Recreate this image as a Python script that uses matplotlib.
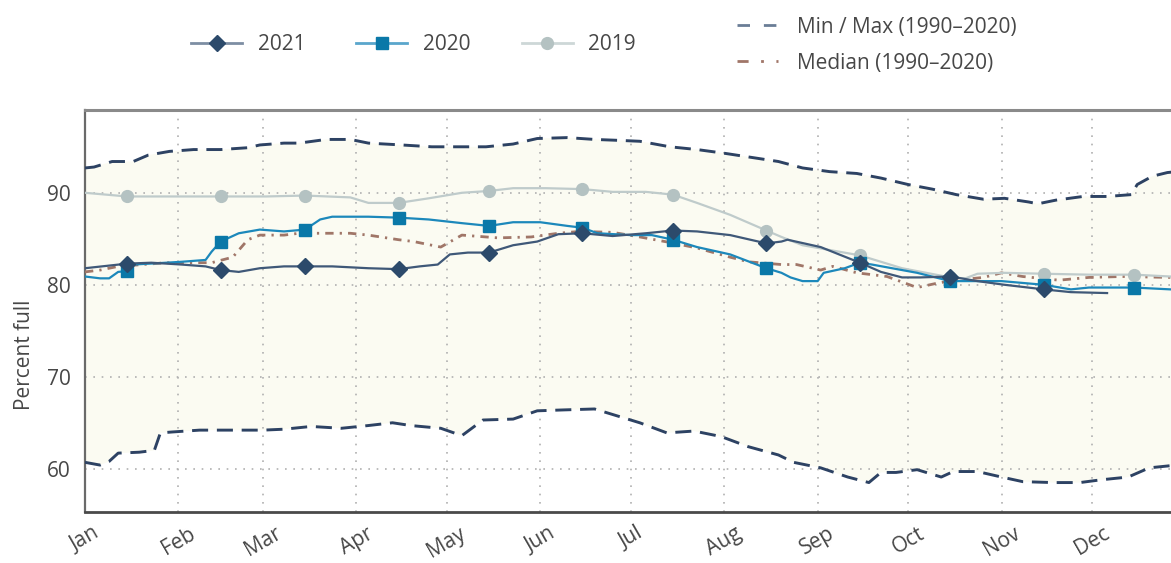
import matplotlib
matplotlib.use("Agg")
import matplotlib.pyplot as plt
from matplotlib.lines import Line2D
import numpy as np

plt.rcParams['font.family'] = ['Open Sans', 'DejaVu Sans']

# ---------------- data ----------------
month_labels = ['Jan', 'Feb', 'Mar', 'Apr', 'May', 'Jun', 'Jul', 'Aug', 'Sep', 'Oct', 'Nov', 'Dec']
month_start_days = [0, 31, 59, 90, 120, 151, 181, 212, 243, 273, 304, 334]
mid_month_days = [14, 45, 73, 104, 134, 165, 195, 226, 257, 287, 318, 348]
y_ticks = [60, 70, 80, 90]

days_2019 = [0, 14, 31, 45, 60, 73, 88, 94, 104, 114, 125, 134, 142, 153, 165, 175, 186, 195, 203, 214,
             226, 231, 238, 257, 271, 287, 292, 296, 305, 318, 333, 348, 360]
vals_2019 = [90.0, 89.6, 89.6, 89.6, 89.6, 89.7, 89.5, 88.9, 88.9, 89.4, 90.0, 90.2, 90.5, 90.5, 90.4, 90.1,
             90.1, 89.8, 88.9, 87.6, 85.9, 85.2, 84.3, 83.2, 81.8, 80.8, 80.7, 81.2, 81.3, 81.2, 81.1, 81.1, 80.9]

days_2020 = [0, 5, 8, 11, 14, 16, 27, 32, 40, 42, 45, 51, 58, 66, 73, 78, 82, 94, 104, 114, 125, 134, 142,
             151, 160, 165, 170, 181, 188, 195, 203, 214, 226, 231, 234, 238, 243, 245, 252, 257, 261, 271,
             276, 287, 293, 304, 318, 327, 333, 348, 360]
vals_2020 = [80.9, 80.7, 80.7, 81.4, 81.5, 82.2, 82.4, 82.5, 82.7, 83.6, 84.7, 85.6, 86.0, 85.8, 86.0, 87.1,
             87.4, 87.4, 87.3, 87.1, 86.7, 86.4, 86.8, 86.8, 86.4, 86.2, 85.6, 85.4, 85.4, 84.9, 84.1, 83.3,
             81.8, 81.3, 80.8, 80.4, 80.4, 81.3, 81.8, 82.4, 82.2, 81.6, 81.3, 80.4, 80.4, 80.4, 80.0, 79.5,
             79.7, 79.7, 79.5]

days_2021 = [0, 14, 22, 32, 40, 45, 51, 58, 66, 73, 82, 94, 104, 111, 117, 121, 127, 134, 142, 150, 157, 165,
             175, 186, 195, 203, 214, 226, 231, 233, 244, 257, 264, 271, 277, 287, 296, 305, 318, 327, 339]
vals_2021 = [81.8, 82.3, 82.4, 82.2, 82.0, 81.6, 81.4, 81.8, 82.0, 82.0, 82.0, 81.8, 81.7, 82.0, 82.2, 83.3,
             83.5, 83.5, 84.3, 84.7, 85.5, 85.6, 85.3, 85.6, 85.9, 85.8, 85.4, 84.5, 84.7, 84.9, 84.1, 82.4,
             81.4, 80.8, 80.8, 80.9, 80.4, 80.0, 79.5, 79.2, 79.1]

days_median = [0, 5, 11, 19, 27, 34, 42, 49, 54, 58, 66, 71, 78, 88, 94, 98, 104, 109, 118, 125, 137, 148,
               157, 164, 175, 184, 194, 203, 214, 220, 231, 236, 244, 248, 256, 266, 276, 283, 289, 298, 304,
               311, 323, 333, 344, 360]
vals_median = [81.4, 81.6, 82.0, 82.2, 82.4, 82.4, 82.4, 83.0, 84.9, 85.4, 85.4, 85.6, 85.6, 85.6, 85.4, 85.2,
               84.9, 84.7, 84.1, 85.4, 85.1, 85.2, 85.6, 85.8, 85.7, 85.2, 84.6, 84.0, 83.0, 82.5, 82.2, 82.2,
               81.6, 82.0, 81.3, 80.9, 79.7, 80.2, 80.5, 80.8, 81.3, 80.9, 80.5, 80.8, 80.9, 80.8]

days_max = [0, 3, 9, 16, 21, 28, 36, 45, 54, 58, 66, 71, 80, 88, 94, 105, 115, 125, 133, 142, 150, 160, 169,
            177, 184, 194, 203, 212, 222, 230, 238, 247, 256, 264, 273, 281, 289, 298, 305, 313, 316, 322,
            331, 339, 347, 349, 354, 359, 365]
vals_max = [92.7, 92.8, 93.4, 93.4, 94.1, 94.5, 94.7, 94.7, 94.9, 95.2, 95.4, 95.4, 95.8, 95.8, 95.4, 95.2,
            95.0, 95.0, 95.0, 95.3, 95.9, 96.0, 95.8, 95.7, 95.6, 95.0, 94.7, 94.3, 93.8, 93.4, 92.7, 92.3,
            92.1, 91.6, 90.9, 90.4, 89.8, 89.3, 89.4, 89.0, 88.8, 89.2, 89.6, 89.6, 89.8, 90.9, 91.8, 92.2, 92.4]

days_min = [0, 5, 8, 11, 18, 23, 25, 29, 38, 49, 59, 66, 75, 85, 94, 102, 108, 118, 125, 132, 142, 150, 159,
            169, 175, 184, 193, 202, 211, 220, 230, 235, 244, 253, 260, 264, 269, 276, 284, 288, 296, 304,
            311, 321, 330, 337, 346, 353, 359, 365]
vals_min = [60.7, 60.4, 60.8, 61.7, 61.8, 62.0, 63.9, 64.0, 64.2, 64.2, 64.2, 64.3, 64.6, 64.4, 64.7, 65.0,
            64.7, 64.4, 63.6, 65.3, 65.4, 66.3, 66.4, 66.5, 65.9, 65.0, 63.9, 64.1, 63.5, 62.4, 61.5, 60.7,
            60.1, 59.1, 58.5, 59.6, 59.6, 59.9, 59.1, 59.7, 59.7, 59.1, 58.6, 58.5, 58.5, 58.8, 59.1, 60.1,
            60.3, 60.5]

# ---------------- styles ----------------
TEXT = '#474747'
C21_LINE, C21_MARK = '#3f5878', '#2c4a6b'
C20_LINE, C20_MARK = '#1c88bb', '#0a78a8'
C19_LINE, C19_MARK = '#bfcbcb', '#b4c2c2'
C_MINMAX = '#2d4263'
C_MED = '#a07668'
FILL = '#fbfbf2'
FS = 15

W, H = 1171, 563
fig = plt.figure(figsize=(W / 100, H / 100), dpi=100)
ax = fig.add_axes([85 / W, (H - 512) / H, (W - 85) / W, (512 - 110) / H])


def mark_idx(days):
    return [i for i, d in enumerate(days) if d in mid_month_days]


# envelope fill
ax.fill(np.concatenate([days_max, days_min[::-1]]),
        np.concatenate([vals_max, vals_min[::-1]]),
        color=FILL, lw=0, zorder=1)

ax.plot(days_max, vals_max, color=C_MINMAX, lw=2.1, dashes=(5.5, 3), zorder=3)
ax.plot(days_min, vals_min, color=C_MINMAX, lw=2.1, dashes=(5.5, 3), zorder=3)
ax.plot(days_median, vals_median, color=C_MED, lw=2.0, linestyle=(0, (3, 2.2, 0.8, 2.2)), zorder=3)

ax.plot(days_2019, vals_2019, color=C19_LINE, lw=1.6, marker='o', ms=8.5,
        mfc=C19_MARK, mec=C19_MARK, markevery=mark_idx(days_2019), zorder=4)
ax.plot(days_2020, vals_2020, color=C20_LINE, lw=1.6, marker='s', ms=9,
        mfc=C20_MARK, mec=C20_MARK, markevery=mark_idx(days_2020), zorder=5)
ax.plot(days_2021, vals_2021, color=C21_LINE, lw=1.6, marker='D', ms=8,
        mfc=C21_MARK, mec=C21_MARK, markevery=mark_idx(days_2021), zorder=6)

ax.set_xlim(0, 360.2)
ax.set_ylim(55.3, 99.0)
ax.set_xticks(month_start_days)
ax.set_xticklabels(month_labels, rotation=30, ha='center')
ax.set_yticks(y_ticks)
ax.tick_params(axis='both', length=0, labelsize=FS, colors=TEXT)
ax.tick_params(axis='y', pad=10)
ax.tick_params(axis='x', pad=8)
ax.grid(True, color='#b0b0b0', linestyle=(0, (1, 4)), lw=1.2, zorder=2)
for gl in ax.get_xgridlines() + ax.get_ygridlines():
    gl.set_zorder(2)

ax.set_ylabel('Percent full', fontsize=FS, color=TEXT)
ax.yaxis.set_label_coords(-0.046, 0.39)

ax.spines['right'].set_visible(False)
ax.spines['top'].set_color('#8a8a8a')
ax.spines['top'].set_linewidth(2.2)
ax.spines['left'].set_color('#6a6a6a')
ax.spines['left'].set_linewidth(1.6)
ax.spines['bottom'].set_color('#4a4a4a')
ax.spines['bottom'].set_linewidth(2.0)
ax.set_facecolor('white')

# legends
h21 = Line2D([], [], color='#7d8ea3', lw=2, marker='D', ms=8, mfc=C21_MARK, mec=C21_MARK)
h20 = Line2D([], [], color='#5aa6cc', lw=2, marker='s', ms=9, mfc=C20_MARK, mec=C20_MARK)
h19 = Line2D([], [], color='#cdd7d7', lw=2, marker='o', ms=8.5, mfc=C19_MARK, mec=C19_MARK)
leg1 = fig.legend([h21, h20, h19], ['2021', '2020', '2019'], loc='center',
                  bbox_to_anchor=(413.5 / W, 1 - 45 / H), ncol=3, frameon=False,
                  fontsize=FS, handlelength=2.45, handletextpad=0.75, columnspacing=2.45,
                  borderpad=0, borderaxespad=0)
for t in leg1.get_texts():
    t.set_color(TEXT)

hmm = Line2D([], [], color='#6a7d96', lw=2, dashes=(4.5, 5))
hmed = Line2D([], [], color=C_MED, lw=2, linestyle=(0, (4, 4.5, 1, 4.5)))
leg2 = fig.legend([hmm, hmed], ['Min / Max (1990–2020)', 'Median (1990–2020)'], loc='center left',
                  bbox_to_anchor=(737 / W, 1 - 45 / H), ncol=1, frameon=False,
                  fontsize=FS, handlelength=1.95, handletextpad=0.95, labelspacing=0.72,
                  borderpad=0, borderaxespad=0)
for t in leg2.get_texts():
    t.set_color(TEXT)

fig.savefig('out.png', dpi=100, facecolor='white')
